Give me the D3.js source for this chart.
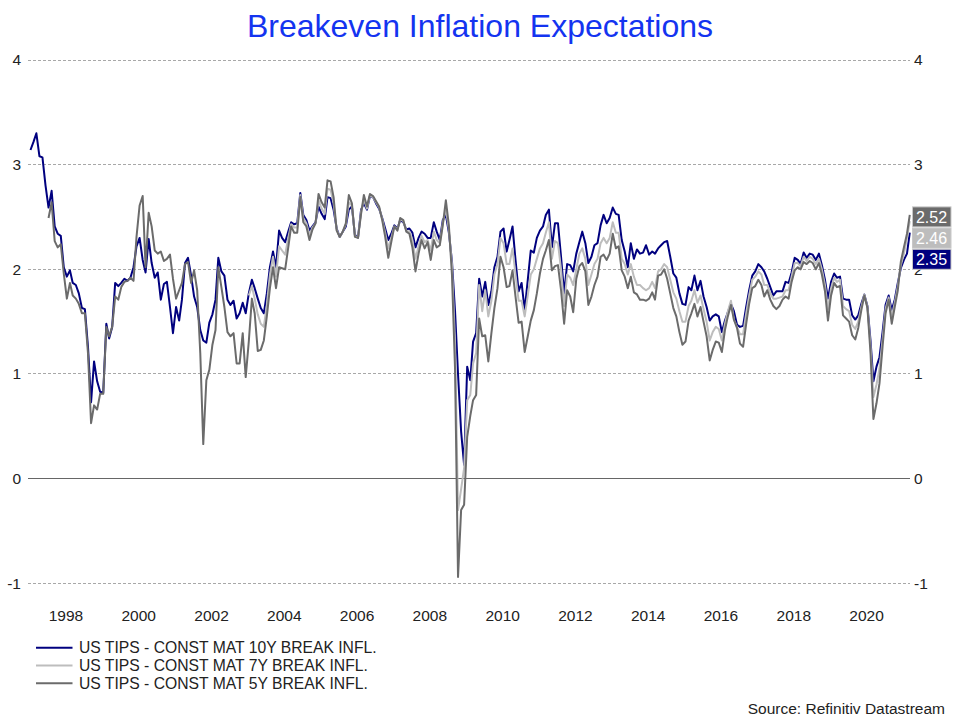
<!DOCTYPE html>
<html>
<head>
<meta charset="utf-8">
<script src="https://cdn.jsdelivr.net/npm/d3@7"></script>
<style>
  html, body { margin: 0; padding: 0; background: #fff; }
  svg { display: block; font-family: "Liberation Sans", Arial, sans-serif; }
</style>
</head>
<body>
<svg id="chart" width="960" height="720"></svg>
<script>
// ---------------- DATA ----------------
const chartTitle = "Breakeven Inflation Expectations";
const sourceText = "Source: Refinitiv Datastream";
const seriesNames = [
  "US TIPS - CONST MAT 10Y BREAK INFL.",
  "US TIPS - CONST MAT 7Y BREAK INFL.",
  "US TIPS - CONST MAT 5Y BREAK INFL."
];
// monthly observations; each series starts at its own first month
const tenYStart = "1997-01";
const tenY = [
3.14,3.22,3.30,3.08,3.07,2.80,2.59,2.75,2.41,2.34,
2.32,2.02,1.93,1.99,1.87,1.85,1.77,1.63,1.62,1.26,
0.73,1.12,0.93,0.83,0.82,1.48,1.34,1.45,1.87,1.84,
1.87,1.91,1.89,1.92,2.02,2.22,2.30,2.09,1.97,2.29,
2.06,1.92,1.97,1.71,1.86,1.88,1.64,1.39,1.64,1.51,
1.71,2.06,2.11,1.94,1.74,1.64,1.42,1.32,1.30,1.49,
1.57,1.71,2.11,1.98,1.94,1.71,1.66,1.70,1.53,1.58,
1.68,1.58,1.77,1.90,1.82,1.72,1.63,1.58,1.77,2.02,
2.17,2.02,2.37,2.30,2.26,2.36,2.45,2.43,2.44,2.73,
2.52,2.47,2.37,2.41,2.45,2.60,2.53,2.48,2.69,2.68,
2.57,2.39,2.31,2.36,2.41,2.57,2.60,2.33,2.30,2.57,
2.63,2.57,2.70,2.69,2.63,2.58,2.49,2.39,2.28,2.34,
2.42,2.39,2.47,2.45,2.38,2.39,2.35,2.21,2.30,2.36,
2.34,2.30,2.30,2.45,2.36,2.28,2.47,2.52,2.35,2.08,
1.60,1.00,0.45,0.13,1.07,0.94,1.31,1.39,1.91,1.74,
1.88,1.66,1.79,2.02,2.12,2.36,2.39,2.17,2.28,2.41,
2.09,1.79,1.87,1.61,1.90,2.18,2.16,2.30,2.37,2.41,
2.52,2.57,2.21,2.44,2.44,2.12,1.77,2.05,2.04,1.98,
2.15,2.26,2.36,2.25,2.06,2.12,2.23,2.25,2.42,2.52,
2.44,2.49,2.59,2.53,2.52,2.28,2.17,2.02,2.25,2.10,
2.19,2.15,2.16,2.23,2.14,2.17,2.15,2.20,2.23,2.26,
2.27,2.12,1.96,1.92,1.77,1.67,1.66,1.83,1.80,1.94,
1.80,1.89,1.74,1.64,1.51,1.55,1.57,1.55,1.40,1.51,
1.59,1.67,1.60,1.47,1.45,1.46,1.64,1.80,1.94,1.98,
2.05,2.02,1.98,1.91,1.83,1.75,1.79,1.79,1.79,1.88,
1.87,1.97,2.11,2.09,2.05,2.16,2.11,2.15,2.14,2.09,
2.15,2.04,1.90,1.72,1.88,1.96,1.92,1.93,1.72,1.71,
1.71,1.56,1.52,1.56,1.67,1.76,1.65,1.32,0.93,1.07,
1.16,1.40,1.66,1.75,1.61,1.71,1.87,2.01,2.09,2.15,
2.35
];
const sevenYStart = "2003-01";
const sevenY = [
1.75,1.84,1.72,1.57,1.48,1.45,1.66,1.95,2.12,1.93,
2.22,2.18,2.14,2.30,2.43,2.40,2.40,2.71,2.49,2.44,
2.33,2.40,2.44,2.66,2.58,2.53,2.77,2.76,2.63,2.38,
2.31,2.36,2.43,2.64,2.61,2.32,2.30,2.55,2.67,2.58,
2.71,2.69,2.64,2.59,2.48,2.35,2.20,2.30,2.41,2.38,
2.48,2.46,2.37,2.36,2.28,2.10,2.22,2.32,2.26,2.28,
2.18,2.36,2.28,2.25,2.44,2.58,2.38,2.05,1.30,-0.30,
-0.10,0.10,0.75,0.80,1.10,1.20,1.85,1.60,1.80,1.55,
1.70,1.95,2.05,2.30,2.25,2.05,2.05,2.20,1.95,1.70,
1.70,1.55,1.75,1.95,2.00,2.10,2.20,2.25,2.35,2.45,
2.10,2.27,2.25,2.00,1.65,1.95,1.92,1.85,2.00,2.15,
2.20,2.10,1.85,1.95,2.05,2.10,2.25,2.30,2.25,2.30,
2.45,2.35,2.35,2.10,2.05,1.95,2.05,1.93,1.85,1.85,
1.82,1.80,1.82,1.88,1.82,1.98,2.00,2.05,2.02,1.90,
1.78,1.72,1.60,1.50,1.50,1.65,1.70,1.80,1.68,1.75,
1.62,1.50,1.32,1.40,1.45,1.43,1.32,1.48,1.60,1.70,
1.52,1.45,1.38,1.38,1.58,1.75,1.90,1.93,1.98,1.95,
1.85,1.85,1.77,1.72,1.72,1.73,1.74,1.80,1.80,1.93,
2.06,2.06,2.03,2.12,2.08,2.12,2.10,2.05,2.10,2.00,
1.85,1.62,1.82,1.92,1.88,1.90,1.65,1.62,1.60,1.47,
1.43,1.50,1.64,1.76,1.64,1.27,0.78,0.90,1.05,1.33,
1.62,1.73,1.55,1.68,1.84,2.04,2.15,2.30,2.46
];
const fiveYStart = "1997-07";
const fiveY = [
2.49,2.64,2.27,2.21,2.24,1.96,1.72,1.87,1.75,1.72,
1.67,1.58,1.58,1.20,0.53,0.70,0.66,0.81,0.81,1.45,
1.36,1.45,1.74,1.71,1.83,1.88,1.89,1.92,1.89,2.31,
2.61,2.70,2.02,2.54,2.41,2.18,2.15,2.17,2.08,2.10,
2.14,1.91,1.72,1.80,1.87,2.05,2.07,1.87,1.99,1.80,
1.20,0.33,0.94,1.04,1.28,1.42,2.02,1.83,1.64,1.40,
1.36,1.39,1.10,1.10,1.39,0.97,1.31,1.72,1.58,1.22,
1.23,1.32,1.55,1.82,2.02,1.82,2.02,2.01,2.00,2.21,
2.41,2.35,2.35,2.69,2.45,2.41,2.28,2.38,2.44,2.72,
2.64,2.59,2.85,2.84,2.69,2.37,2.31,2.36,2.44,2.71,
2.63,2.31,2.30,2.53,2.71,2.60,2.72,2.70,2.65,2.60,
2.47,2.31,2.11,2.26,2.41,2.37,2.49,2.47,2.36,2.34,
2.21,1.98,2.15,2.28,2.20,2.26,2.09,2.28,2.21,2.23,
2.42,2.66,2.42,1.95,1.05,-0.94,-0.30,-0.25,0.40,0.60,
0.75,0.80,1.53,1.36,1.37,1.12,1.39,1.63,1.82,2.12,
2.02,1.83,1.84,1.99,1.74,1.49,1.50,1.21,1.36,1.51,
1.61,1.77,1.96,2.10,2.18,2.28,1.99,2.03,2.04,1.80,
1.48,1.80,1.74,1.59,1.91,2.03,2.06,1.98,1.66,1.74,
1.85,1.93,2.12,2.14,2.09,2.15,2.34,2.20,2.22,1.99,
1.93,1.82,1.93,1.78,1.76,1.71,1.71,1.70,1.72,1.78,
1.71,1.94,1.95,2.00,1.91,1.77,1.63,1.55,1.40,1.28,
1.31,1.51,1.58,1.67,1.55,1.64,1.50,1.36,1.13,1.23,
1.31,1.30,1.21,1.42,1.55,1.66,1.52,1.44,1.29,1.26,
1.48,1.67,1.82,1.84,1.90,1.85,1.74,1.80,1.71,1.65,
1.62,1.65,1.71,1.74,1.72,1.88,1.99,2.02,2.00,2.07,
2.05,2.08,2.06,2.00,2.06,1.95,1.79,1.51,1.75,1.87,
1.83,1.84,1.56,1.53,1.50,1.37,1.33,1.44,1.61,1.75,
1.63,1.20,0.57,0.72,0.91,1.26,1.58,1.71,1.48,1.64,
1.80,2.07,2.21,2.34,2.52
];
const yTicks = [-1, 0, 1, 2, 3, 4];
const xTickYears = [1998, 2000, 2002, 2004, 2006, 2008, 2010, 2012, 2014, 2016, 2018, 2020];

// ---------------- STYLE ----------------
const colors = ["#00007f", "#bdbdbd", "#6b6b6b"];
const textColor = "#222222";

const svg = d3.select("#chart");
const plotL = 28, plotR = 910;

const x = d3.scaleTime()
  .domain([new Date(1997, 0, 1), new Date(2021, 0, 1)])
  .range([29.1, 902.5]);
const y = d3.scaleLinear().domain([-1, 4]).range([583.3, 60]);

const parseMonth = d3.timeParse("%Y-%m");
function toPoints(startStr, values) {
  const start = parseMonth(startStr);
  return values.map((v, i) => {
    const d = d3.timeMonth.offset(start, i);
    return { date: new Date(d.getFullYear(), d.getMonth(), 15), value: v };
  });
}
const series = [
  { name: seriesNames[0], color: colors[0], points: toPoints(tenYStart, tenY) },
  { name: seriesNames[1], color: colors[1], points: toPoints(sevenYStart, sevenY) },
  { name: seriesNames[2], color: colors[2], points: toPoints(fiveYStart, fiveY) }
];

// Title
svg.append("text")
  .attr("x", 480).attr("y", 37)
  .attr("text-anchor", "middle")
  .attr("font-size", 32)
  .attr("fill", "#1434f0")
  .text(chartTitle);

// Gridlines
const grid = svg.append("g");
yTicks.forEach(t => {
  grid.append("line")
    .attr("x1", plotL).attr("x2", plotR)
    .attr("y1", y(t)).attr("y2", y(t))
    .attr("stroke", t === 0 ? "#666" : "#a8a8a8")
    .attr("stroke-width", 1)
    .attr("stroke-dasharray", t === 0 ? null : "3,2")
    .attr("shape-rendering", "crispEdges");
});

const tickFmt = d => String(d);

// Left axis labels
const leftAxis = d3.axisLeft(y).tickValues(yTicks).tickSize(0).tickPadding(0).tickFormat(tickFmt);
const gl = svg.append("g").attr("transform", "translate(21,0)").call(leftAxis);
gl.select(".domain").remove();
gl.selectAll("text").attr("font-size", 15.5).attr("fill", textColor)
  .attr("font-family", "'Liberation Sans', Arial, sans-serif");

// Right axis labels
const rightAxis = d3.axisRight(y).tickValues(yTicks).tickSize(0).tickPadding(0).tickFormat(tickFmt);
const gr = svg.append("g").attr("transform", "translate(914,0)").call(rightAxis);
gr.select(".domain").remove();
gr.selectAll("text").attr("font-size", 15.5).attr("fill", textColor)
  .attr("font-family", "'Liberation Sans', Arial, sans-serif");

// X axis labels
const xAxis = d3.axisBottom(x)
  .tickValues(xTickYears.map(yr => new Date(yr, 0, 1)))
  .tickSize(0).tickPadding(0)
  .tickFormat(d3.timeFormat("%Y"));
const gx = svg.append("g").attr("transform", "translate(0,610)").call(xAxis);
gx.select(".domain").remove();
gx.selectAll("text").attr("font-size", 15.5).attr("fill", textColor)
  .attr("font-family", "'Liberation Sans', Arial, sans-serif");

// Lines
const line = d3.line().x(d => x(d.date)).y(d => y(d.value));
series.forEach(s => {
  svg.append("path")
    .datum(s.points)
    .attr("fill", "none")
    .attr("stroke", s.color)
    .attr("stroke-width", 2)
    .attr("stroke-linejoin", "round")
    .attr("d", line);
});

// End-value labels (stacked to avoid overlap)
const ends = series.map(s => ({ color: s.color, value: s.points[s.points.length - 1].value }))
  .sort((a, b) => b.value - a.value);
let prev = -Infinity;
ends.forEach((e, i) => {
  let cy = y(e.value) + 2;
  if (cy < prev + 21.2) cy = prev + 21.2;
  prev = cy;
  svg.append("rect")
    .attr("x", 912.5).attr("y", cy - 10)
    .attr("width", 38.5).attr("height", 20)
    .attr("fill", e.color)
    .attr("stroke", "#c8c8c8").attr("stroke-width", 1);
  svg.append("text")
    .attr("x", 931.5).attr("y", cy + 6)
    .attr("text-anchor", "middle")
    .attr("font-size", 16)
    .attr("fill", "#fff")
    .text(d3.format(".2f")(e.value));
});

// Legend
const lg = svg.append("g");
series.forEach((s, i) => {
  const ly = 647.7 + i * 17.8;
  lg.append("line")
    .attr("x1", 36).attr("x2", 72.5)
    .attr("y1", ly).attr("y2", ly)
    .attr("stroke", s.color).attr("stroke-width", 2);
  lg.append("text")
    .attr("x", 79).attr("y", ly + 5.5)
    .attr("font-size", 15.7)
    .attr("fill", textColor)
    .text(s.name);
});

// Source
svg.append("text")
  .attr("x", 945).attr("y", 714)
  .attr("text-anchor", "end")
  .attr("font-size", 15.5)
  .attr("fill", textColor)
  .text(sourceText);
</script>
</body>
</html>
